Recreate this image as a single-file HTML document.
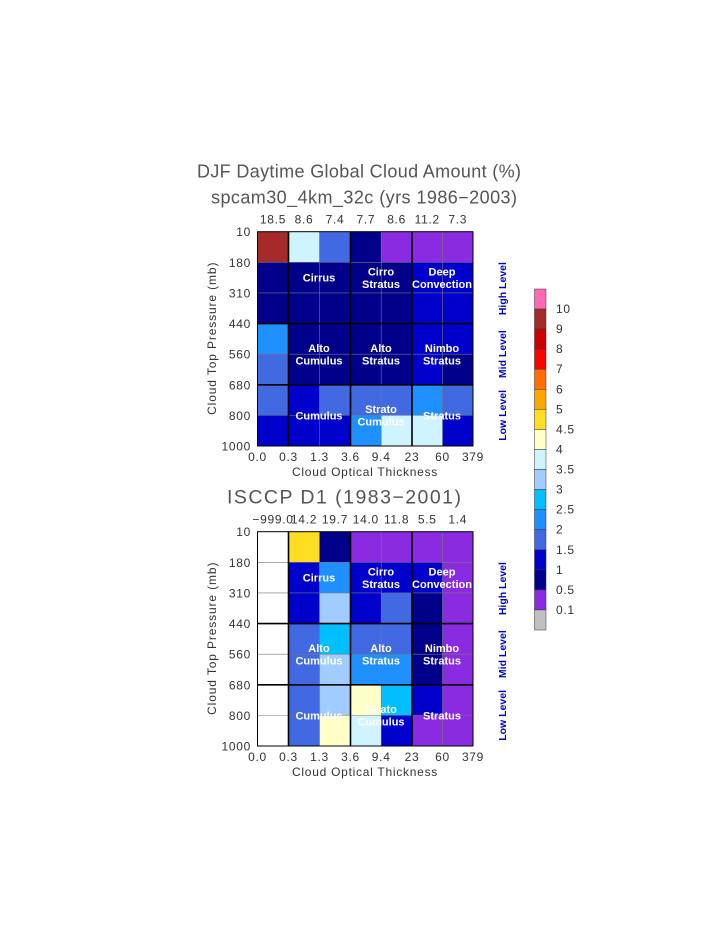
<!DOCTYPE html>
<html><head><meta charset="utf-8"><style>
html,body{margin:0;padding:0;background:#fff;}
svg{display:block;}
text{font-family:"Liberation Sans",sans-serif;}
</style></head><body>
<svg width="723" height="935" viewBox="0 0 723 935" xmlns="http://www.w3.org/2000/svg">
<defs>
<style>
.t{fill:#333;font-size:12px;letter-spacing:0.7px;}
.ti{fill:#555;font-size:18px;}
.tb{fill:#555;font-size:19.5px;}
.lb{fill:#fff;font-size:11px;font-weight:bold;text-anchor:middle;}
.sd{fill:#0000cd;font-size:10.5px;font-weight:bold;text-anchor:middle;}
</style>
</defs>
<g id="top"></g>
<g id="bot"></g>
<g id="cb"></g>
</svg>
<script>
const C={B:'#a52a2a',LC:'#d0f4ff',R:'#4169e1',N:'#00008b',V:'#8a2be2',M:'#0000cd',D:'#1e90ff',W:'#ffffff',G:'#ffdd22',LB:'#a0ccff',S:'#00bfff',Y:'#ffffc8'};
const X=[257.5,288.5,319.5,350.5,381.2,412,442.5,473];
const NS='http://www.w3.org/2000/svg';
function el(p,tag,a,txt){const e=document.createElementNS(NS,tag);for(const k in a)e.setAttribute(k,a[k]);if(txt!==undefined)e.textContent=txt;p.appendChild(e);return e;}
function chart(g,top,grid,t1,t2,vals,t2len,t2x,t2cls){
 const h=(446-231.7)/7;const Y=[];for(let i=0;i<=7;i++)Y.push(top+i*h);
 for(let r=0;r<7;r++)for(let c=0;c<7;c++)el(g,'rect',{x:X[c],y:Y[r],width:X[c+1]-X[c]+0.3,height:h+0.3,fill:C[grid[r][c]]});
 for(let i=1;i<7;i++){el(g,'line',{x1:X[i],x2:X[i],y1:Y[0],y2:Y[7],stroke:'#777','stroke-width':0.6});el(g,'line',{y1:Y[i],y2:Y[i],x1:X[0],x2:X[7],stroke:'#777','stroke-width':0.6});}
 [1,3,5].forEach(i=>el(g,'line',{x1:X[i],x2:X[i],y1:Y[0],y2:Y[7],stroke:'#000','stroke-width':1.6}));
 [3,5].forEach(i=>el(g,'line',{y1:Y[i],y2:Y[i],x1:X[0],x2:X[7],stroke:'#000','stroke-width':1.6}));
 el(g,'rect',{x:X[0],y:Y[0],width:X[7]-X[0],height:Y[7]-Y[0],fill:'none',stroke:'#000','stroke-width':1});
 const yl=['10','180','310','440','560','680','800','1000'];
 yl.forEach((s,i)=>el(g,'text',{x:251,y:Y[i]+4.5,'text-anchor':'end',class:'t'},s));
 const xl=['0.0','0.3','1.3','3.6','9.4','23','60','379'];
 xl.forEach((s,i)=>el(g,'text',{x:X[i],y:Y[7]+15,'text-anchor':'middle',class:'t'},s));
 el(g,'text',{x:292,y:Y[7]+30,class:'t',textLength:146,lengthAdjust:'spacing'},'Cloud Optical Thickness');
 const my=(Y[0]+Y[7])/2;
 el(g,'text',{x:216,y:my+76,class:'t',textLength:153,lengthAdjust:'spacing',transform:`rotate(-90 216 ${my+76})`},'Cloud Top Pressure (mb)');
 vals.forEach((s,i)=>el(g,'text',{x:(X[i]+X[i+1])/2,y:top-8,'text-anchor':'middle',class:'t'},s));
 if(t1)el(g,'text',{x:197,y:top-54,class:'ti',textLength:324,lengthAdjust:'spacing'},t1);
 el(g,'text',{x:t2x,y:top-28,class:t2cls,textLength:t2len,lengthAdjust:'spacing'},t2);
 const cx=[319,381,442];
 const L=[[['Cirrus'],['Cirro','Stratus'],['Deep','Convection']],[['Alto','Cumulus'],['Alto','Stratus'],['Nimbo','Stratus']],[['Cumulus'],['Strato','Cumulus'],['Stratus']]];
 const ry=[Y[1]+h/2,Y[4],Y[6]];
 L.forEach((row,r)=>row.forEach((ls,c)=>{ls.forEach((s,k)=>el(g,'text',{x:cx[c],y:ry[r]+4+(k-(ls.length-1)/2)*12.5,class:'lb'},s));}));
 const sy=[(Y[0]+Y[3])/2+11,(Y[3]+Y[5])/2,(Y[5]+Y[7])/2];
 ['High Level','Mid Level','Low Level'].forEach((s,i)=>el(g,'text',{x:506,y:sy[i],class:'sd',transform:`rotate(-90 506 ${sy[i]})`},s));
}
chart(document.getElementById('top'),231.7,[
 ['B','LC','R','N','V','V','V'],
 ['N','N','N','N','N','M','M'],
 ['N','N','N','N','N','M','M'],
 ['D','N','N','N','N','M','M'],
 ['R','N','N','N','N','M','N'],
 ['R','M','R','R','R','D','R'],
 ['M','M','M','D','LC','LC','M']],
 'DJF Daytime Global Cloud Amount (%)','spcam30_4km_32c (yrs 1986\u22122003)',['18.5','8.6','7.4','7.7','8.6','11.2','7.3'],306,211,'ti');
chart(document.getElementById('bot'),531.7,[
 ['W','G','N','V','V','V','V'],
 ['W','M','D','M','M','M','V'],
 ['W','M','LB','M','R','N','V'],
 ['W','R','S','R','R','N','V'],
 ['W','R','LB','D','D','N','V'],
 ['W','R','LB','Y','S','M','V'],
 ['W','R','Y','LC','M','V','V']],
 null,'ISCCP D1 (1983\u22122001)',['\u2212999.0','14.2','19.7','14.0','11.8','5.5','1.4'],234,227,'tb');
const cb=document.getElementById('cb');
const cc=['#ff69b4','#a52a2a','#cc0000','#ff0000','#ff7000','#ffa500','#ffdd22','#ffffc8','#d0f4ff','#a0ccff','#00bfff','#1e90ff','#4169e1','#0000cd','#00008b','#8a2be2','#c0c0c0'];
const cl=['10','9','8','7','6','5','4.5','4','3.5','3','2.5','2','1.5','1','0.5','0.1'];
const ch=(630-289)/17;
cc.forEach((c,i)=>el(cb,'rect',{x:534.5,y:289+i*ch,width:11.5,height:ch,fill:c,stroke:'#333','stroke-width':0.5}));
cl.forEach((s,i)=>el(cb,'text',{x:556,y:289+(i+1)*ch+4,class:'t'},s));
</script>
</body></html>
